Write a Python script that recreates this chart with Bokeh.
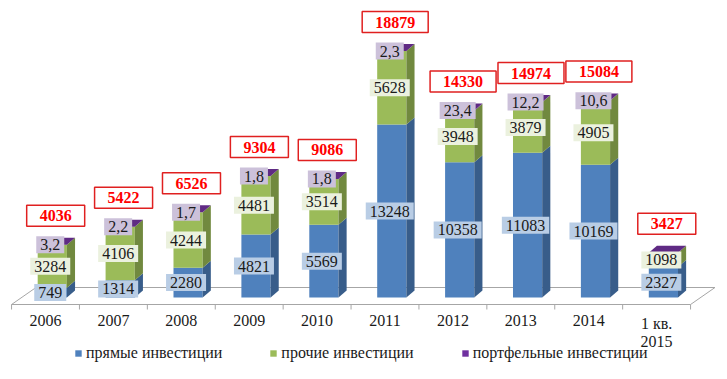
from bokeh.plotting import figure
from bokeh.models import ColumnDataSource, Legend, LegendItem, Range1d
from bokeh.core.properties import value
from bokeh.embed import file_html
from bokeh.resources import INLINE

categories = ["2006", "2007", "2008", "2009", "2010", "2011", "2012", "2013", "2014", "1 кв.\n2015"]
direct = [749, 1314, 2280, 4821, 5569, 13248, 10358, 11083, 10169, 2327]
other = [3284, 4106, 4244, 4481, 3514, 5628, 3948, 3879, 4905, 1098]
portfolio = [3.2, 2.2, 1.7, 1.8, 1.8, 2.3, 23.4, 12.2, 10.6, 2.0]
portfolio_labels = ["3,2", "2,2", "1,7", "1,8", "1,8", "2,3", "23,4", "12,2", "10,6", ""]
totals = [4036, 5422, 6526, 9304, 9086, 18879, 14330, 14974, 15084, 3427]
series_names = ["прямые инвестиции", "прочие инвестиции", "портфельные инвестиции"]

front_colors = ["#4f81bd", "#9bbb59", "#7030a0"]
side_colors = ["#385d8a", "#71893f", "#52227a"]
label_bg = ["#b9cde5", "#ebf1de", "#ccc1da"]

FONT = "Liberation Serif"
n = len(categories)

# geometry (styling, in axis units)
px_per_cat = 67.9
units_per_px = 76.6
shift = 0.10          # bar offset from category center
half_w = 0.215        # half width of front face
dx = 0.12             # 3D depth, x
dy = 7 * units_per_px # 3D depth, y
floor_front = -7 * units_per_px
floor_back = 10 * units_per_px
floor_dx = 0.36

FW, FH = 719, 371
p = figure(frame_width=FW, frame_height=FH, output_backend="svg", toolbar_location=None,
           x_range=Range1d(-45 / px_per_cat, (FW - 45) / px_per_cat),
           y_range=Range1d(-(FH - 297) * units_per_px, 297 * units_per_px),
           min_border_left=0, min_border_right=0, min_border_top=0, min_border_bottom=0)
p.outline_line_color = None
p.background_fill_color = "white"
p.border_fill_color = "white"
p.grid.visible = False
p.axis.visible = False

# floor outline
fl_x = [-0.5, 9.5, 9.5 + floor_dx, -0.5 + floor_dx, -0.5]
fl_y = [floor_front, floor_front, floor_back, floor_back, floor_front]
p.line(fl_x, fl_y, line_color="#a6a6a6", line_width=1)

# category boundary ticks
bounds = [i - 0.5 for i in range(n + 1)]
p.segment(x0=bounds, x1=bounds, y0=[floor_front] * len(bounds),
          y1=[floor_front - 5 * units_per_px] * len(bounds), line_color="#a6a6a6", line_width=1)

# category labels
p.text(x=list(range(n)), y=[-17 * units_per_px] * n, text=categories,
       text_font=value(FONT), text_font_size="16px", text_color="#1a1a1a",
       text_align="center", text_baseline="top", text_line_height=1.1)

series = [direct, other, portfolio]
renderers = []
bottoms = [0.0] * n
for j, vals in enumerate(series):
    lefts = [i + shift - half_w for i in range(n)]
    rights = [i + shift + half_w for i in range(n)]
    bots = list(bottoms)
    tops = [bots[i] + vals[i] for i in range(n)]
    r = p.quad(left=lefts, right=rights, bottom=bots, top=tops,
               fill_color=front_colors[j], line_color=None)
    renderers.append(r)
    xs, ys = [], []
    for i in range(n):
        R = rights[i]
        xs.append([R, R + dx, R + dx, R])
        ys.append([bots[i], bots[i] + dy, tops[i] + dy, tops[i]])
    p.patches(xs, ys, fill_color=side_colors[j], line_color=None)
    bottoms = tops

# top faces
txs, tys = [], []
for i in range(n):
    L = i + shift - half_w
    R = i + shift + half_w
    T = bottoms[i]
    txs.append([L, L + dx, R + dx, R])
    tys.append([T, T + dy, T + dy, T])
p.patches(txs, tys, fill_color="#5f2a84", line_color=None)

# segment labels
cum = [0.0] * n
for j, vals in enumerate(series):
    xs_l, ys_l, texts = [], [], []
    for i in range(n):
        mid = cum[i] + vals[i] / 2
        if j == 2:
            txt = portfolio_labels[i]
        else:
            txt = str(vals[i])
        cum[i] += vals[i]
        if txt:
            xs_l.append(i + shift - 0.03)
            ys_l.append(mid)
            texts.append(txt)
    src = ColumnDataSource(dict(x=xs_l, y=ys_l, t=texts))
    p.text(x="x", y="y", text="t", source=src, text_font=value(FONT), text_font_size="16px",
           text_color="#1a1a1a", text_align="center", text_baseline="middle",
           background_fill_color=label_bg[j], padding=(4, 3))

# total labels
tsrc = ColumnDataSource(dict(x=[i + shift + 0.05 for i in range(n)],
                             y=[totals[i] + 29 * units_per_px for i in range(n)],
                             t=[str(v) for v in totals]))
p.text(x="x", y="y", text="t", source=tsrc, text_font=value(FONT), text_font_size="16px",
       text_font_style="bold", text_color="#ff0000", text_align="center", text_baseline="middle",
       background_fill_color="white", border_line_color="#e02020", border_line_width=1.5,
       padding=(13, 5))

legend = Legend(items=[LegendItem(label=series_names[j], renderers=[renderers[j]]) for j in range(3)],
                orientation="horizontal", location=(74, 9))
legend.label_text_font = FONT
legend.label_text_font_size = "16px"
legend.label_text_color = "#1a1a1a"
legend.glyph_width = 8
legend.glyph_height = 8
legend.label_standoff = 4
legend.spacing = 47
legend.padding = 0
legend.margin = 0
legend.border_line_color = None
legend.background_fill_alpha = 0
p.add_layout(legend, "center")

open("out.html", "w").write(file_html(p, INLINE))
